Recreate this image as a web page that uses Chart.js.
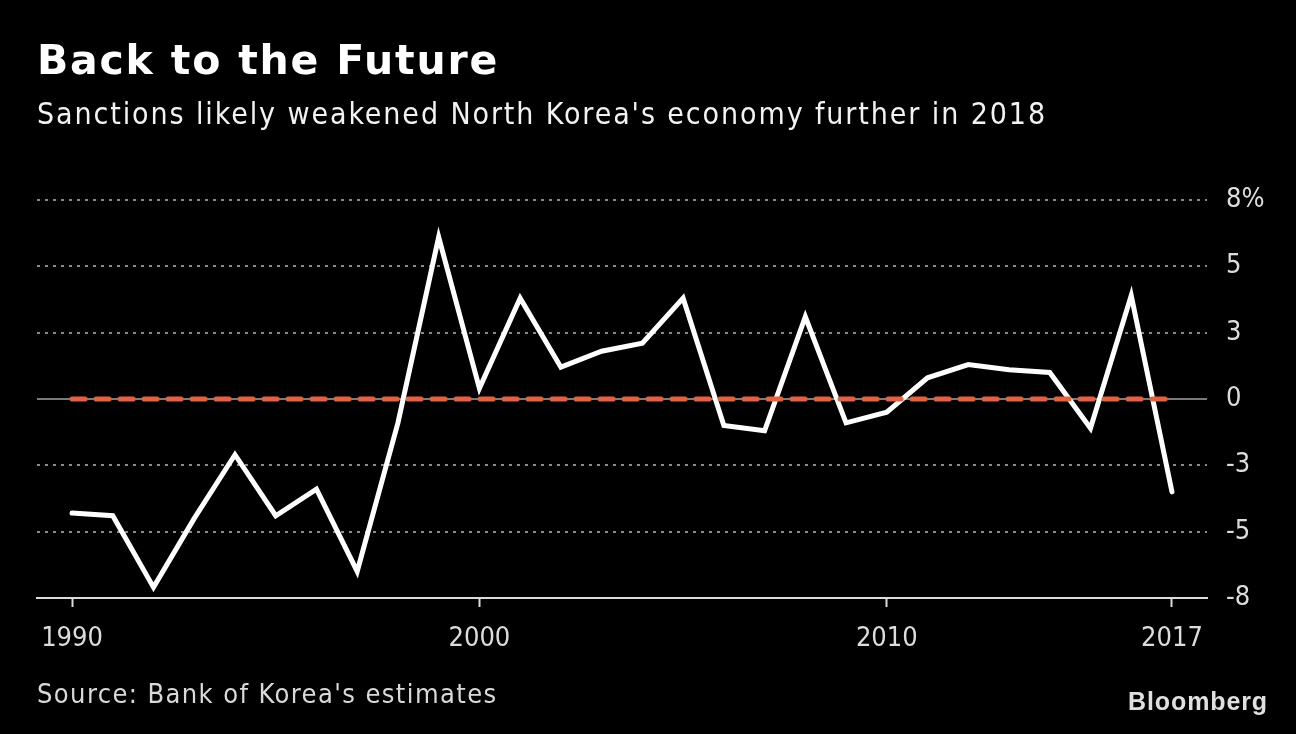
<!DOCTYPE html>
<html>
<head>
<meta charset="utf-8">
<script src="https://cdn.jsdelivr.net/npm/chart.js@4"></script>
<style>
  html, body { margin: 0; padding: 0; background: #000; }
  #wrap { position: relative; width: 1296px; height: 734px; background: #000; overflow: hidden; }
  #c { position: absolute; left: 0; top: 0; }
  .t { position: absolute; white-space: nowrap; color: #fff; }
  #title { left: 37px; top: 36px; font: bold 41px "DejaVu Sans", sans-serif; letter-spacing: 1.8px; }
  #subtitle { left: 37px; top: 96px; font: 30px "DejaVu Sans Condensed", "DejaVu Sans", sans-serif; color: #f2f2f2; letter-spacing: 1.9px; }
  #source { left: 37px; top: 678px; font: 27px "DejaVu Sans Condensed", "DejaVu Sans", sans-serif; color: #d9d9d9; letter-spacing: 1.4px; }
  #logo { left: 1128px; top: 687px; font: bold 25px "Liberation Sans", Arial, sans-serif; color: #e0e0e0; letter-spacing: 0.9px; }
</style>
</head>
<body>
<div id="wrap">
  <canvas id="c" width="1296" height="734"></canvas>
  <div class="t" id="title">Back to the Future</div>
  <div class="t" id="subtitle">Sanctions likely weakened North Korea's economy further in 2018</div>
  <div class="t" id="source">Source: Bank of Korea's estimates</div>
  <div class="t" id="logo">Bloomberg</div>
</div>
<script>
// ---- data ----
const years = [1990,1991,1992,1993,1994,1995,1996,1997,1998,1999,2000,2001,2002,2003,2004,2005,2006,2007,2008,2009,2010,2011,2012,2013,2014,2015,2016,2017];
const growth = [-4.3,-4.4,-7.1,-4.5,-2.1,-4.4,-3.4,-6.5,-0.9,6.1,0.4,3.8,1.2,1.8,2.1,3.8,-1.0,-1.2,3.1,-0.9,-0.5,0.8,1.3,1.1,1.0,-1.1,3.9,-3.5];
const xTickYears = [1990, 2000, 2010, 2017];
const yTickValues = [-7.5, -5, -2.5, 0, 2.5, 5, 7.5];
const yTickLabels = ['-8', '-5', '-3', '0', '3', '5', '8%'];
const referenceLevel = 0;

const lineData = years.map((y, i) => ({ x: y, y: growth[i] }));
const refData = [{ x: years[0], y: referenceLevel }, { x: years[years.length - 1], y: referenceLevel }];

const gridPlugin = {
  id: 'customGrid',
  beforeDatasetsDraw(chart) {
    const { ctx, chartArea, scales } = chart;
    const ys = scales.y;
    ctx.save();
    yTickValues.forEach(v => {
      if (v === ys.min) return;
      const py = Math.round(ys.getPixelForValue(v));
      ctx.beginPath();
      if (v === referenceLevel) {
        ctx.setLineDash([]);
        ctx.strokeStyle = '#7a7a7a';
        ctx.lineWidth = 2;
      } else {
        ctx.setLineDash([3, 5]);
        ctx.strokeStyle = '#8a8a8a';
        ctx.lineWidth = 2;
      }
      ctx.moveTo(chartArea.left, py);
      ctx.lineTo(chartArea.right, py);
      ctx.stroke();
    });
    ctx.restore();
  }
};

const AXIS_FONT = { family: '"DejaVu Sans Condensed", "DejaVu Sans", sans-serif', size: 27 };

new Chart(document.getElementById('c'), {
  type: 'line',
  data: {
    datasets: [
      {
        data: lineData,
        borderColor: '#ffffff',
        borderWidth: 5,
        pointRadius: 0,
        tension: 0,
        borderCapStyle: 'round',
        borderJoinStyle: 'miter',
        order: 2
      },
      {
        data: refData,
        borderColor: '#e8603c',
        borderWidth: 5,
        borderDash: [13, 11],
        borderCapStyle: 'round',
        pointRadius: 0,
        order: 1
      }
    ]
  },
  options: {
    responsive: false,
    animation: false,
    events: [],
    layout: { padding: { left: 37, top: 200, right: 0, bottom: 0 } },
    plugins: { legend: { display: false }, tooltip: { enabled: false } },
    scales: {
      x: {
        type: 'linear',
        position: 'bottom',
        min: 1989.14,
        max: 2017.86,
        afterBuildTicks: s => { s.ticks = xTickYears.map(v => ({ value: v })); },
        afterFit: s => { s.height = 136; },
        ticks: {
          color: '#dcdcdc',
          font: AXIS_FONT,
          padding: 16,
          maxRotation: 0,
          autoSkip: false,
          callback: v => String(v)
        },
        grid: { drawOnChartArea: false, drawTicks: true, tickLength: 9, tickColor: '#dcdcdc', tickWidth: 2, color: '#dcdcdc' },
        border: { display: true, color: '#dcdcdc', width: 2 }
      },
      y: {
        type: 'linear',
        position: 'right',
        min: -7.5,
        max: 7.5,
        afterBuildTicks: s => { s.ticks = yTickValues.map(v => ({ value: v })); },
        afterFit: s => { s.width = 89; },
        ticks: {
          color: '#dcdcdc',
          font: AXIS_FONT,
          padding: 19,
          autoSkip: false,
          callback: (v, i) => yTickLabels[yTickValues.indexOf(v)]
        },
        grid: { display: false, drawTicks: false },
        border: { display: false }
      }
    }
  },
  plugins: [gridPlugin]
});
</script>
</body>
</html>
